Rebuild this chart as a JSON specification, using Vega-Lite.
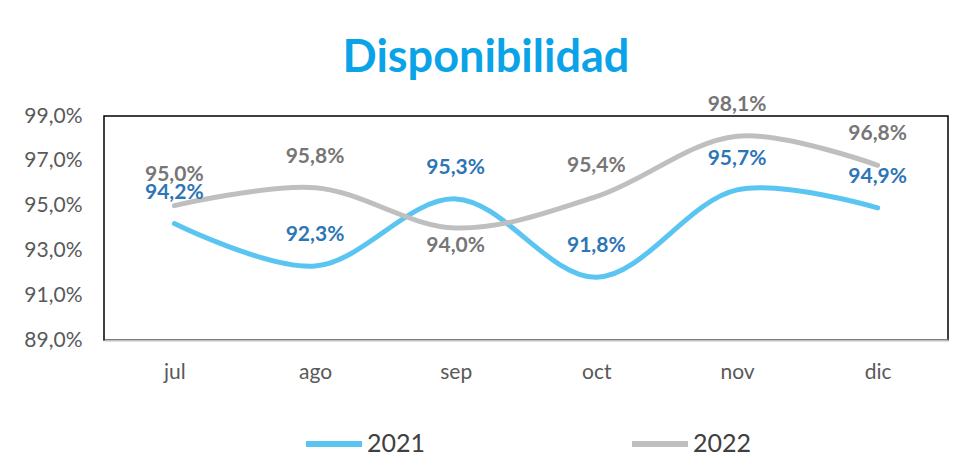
{
  "$schema": "https://vega.github.io/schema/vega-lite/v6.json",
  "width": 844,
  "height": 224,
  "autosize": {"type": "none"},
  "padding": {"left": 104, "top": 116, "right": 29, "bottom": 128},
  "background": "white",
  "config": {
    "font": "Lato",
    "locale": {"number": {"decimal": ",", "thousands": ".", "grouping": [3], "currency": ["", " €"]}},
    "view": {"stroke": "black", "strokeWidth": 1.5},
    "axis": {"grid": false, "ticks": false, "labelFont": "Lato", "labelColor": "#595959", "labelFontSize": 21}
  },
  "title": {
    "text": "Disponibilidad",
    "font": "Lato",
    "fontSize": 45,
    "fontWeight": "bold",
    "color": "#0AA3E8",
    "anchor": "middle",
    "frame": "bounds",
    "offset": 13
  },
  "data": {
    "values": [
      {"mes": "jul", "anio": "2021", "valor": 0.942},
      {"mes": "ago", "anio": "2021", "valor": 0.923},
      {"mes": "sep", "anio": "2021", "valor": 0.953},
      {"mes": "oct", "anio": "2021", "valor": 0.918},
      {"mes": "nov", "anio": "2021", "valor": 0.957},
      {"mes": "dic", "anio": "2021", "valor": 0.949},
      {"mes": "jul", "anio": "2022", "valor": 0.950},
      {"mes": "ago", "anio": "2022", "valor": 0.958},
      {"mes": "sep", "anio": "2022", "valor": 0.940},
      {"mes": "oct", "anio": "2022", "valor": 0.954},
      {"mes": "nov", "anio": "2022", "valor": 0.981},
      {"mes": "dic", "anio": "2022", "valor": 0.968}
    ]
  },
  "encoding": {
    "x": {
      "field": "mes",
      "type": "nominal",
      "sort": ["jul", "ago", "sep", "oct", "nov", "dic"],
      "scale": {"type": "point", "padding": 0.5},
      "axis": {"title": null, "labelAngle": 0, "labelPadding": 21, "domainColor": "#BFBFBF", "domainWidth": 2}
    },
    "y": {
      "field": "valor",
      "type": "quantitative",
      "scale": {"domain": [0.89, 0.99], "nice": false, "zero": false},
      "axis": {
        "title": null,
        "values": [0.89, 0.91, 0.93, 0.95, 0.97, 0.99],
        "format": ".1%",
        "labelPadding": 22,
        "domain": false
      }
    }
  },
  "layer": [
    {
      "mark": {"type": "line", "interpolate": "catmull-rom", "strokeWidth": 5, "strokeCap": "round"},
      "encoding": {
        "color": {
          "field": "anio",
          "type": "nominal",
          "scale": {"domain": ["2021", "2022"], "range": ["#5BC5F2", "#BFBFBF"]},
          "legend": {
            "title": null,
            "orient": "none",
            "legendX": 199,
            "legendY": 297,
            "direction": "horizontal",
            "symbolType": "stroke",
            "symbolStrokeWidth": 6,
            "symbolSize": 3136,
            "labelFontSize": 25,
            "labelFont": "Lato",
            "labelColor": "#404040",
            "labelOffset": 2,
            "columnPadding": 194
          }
        }
      }
    },
    {
      "transform": [{"filter": "!(datum.anio == '2022' && datum.mes == 'sep')"}],
      "mark": {"type": "text", "dy": -31, "fontSize": 21, "fontWeight": "bold", "font": "Lato"},
      "encoding": {
        "text": {"field": "valor", "type": "quantitative", "format": ".1%"},
        "fill": {
          "field": "anio",
          "type": "nominal",
          "scale": {"domain": ["2021", "2022"], "range": ["#2E75B6", "#767676"]},
          "legend": null
        }
      }
    },
    {
      "transform": [{"filter": "datum.anio == '2022' && datum.mes == 'sep'"}],
      "mark": {"type": "text", "dy": 18, "fontSize": 21, "fontWeight": "bold", "font": "Lato"},
      "encoding": {
        "text": {"field": "valor", "type": "quantitative", "format": ".1%"},
        "fill": {
          "field": "anio",
          "type": "nominal",
          "scale": {"domain": ["2021", "2022"], "range": ["#2E75B6", "#767676"]},
          "legend": null
        }
      }
    }
  ]
}
